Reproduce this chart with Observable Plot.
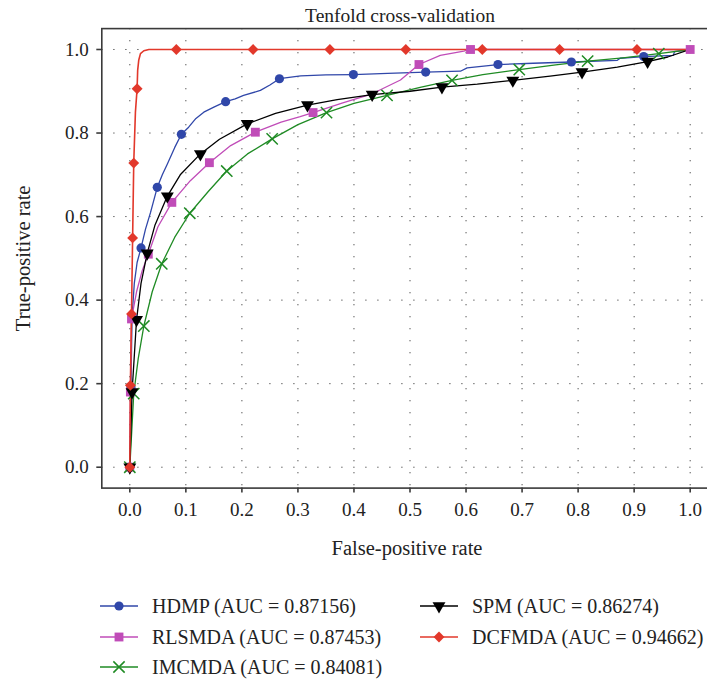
<!DOCTYPE html>
<html><head><meta charset="utf-8">
<script src="https://cdn.jsdelivr.net/npm/d3@7"></script>
<script src="https://cdn.jsdelivr.net/npm/@observablehq/plot@0.6"></script>
<style>
html,body{margin:0;padding:0;background:#fff;overflow:hidden}
#wrap{position:relative;width:707px;height:682px;font-family:"Liberation Serif",serif;color:#222;overflow:hidden}
#chart svg{max-width:none;display:block}
.leg{position:absolute;display:flex;align-items:center;font-size:20px;white-space:nowrap;line-height:24px}
.leg svg{display:block;overflow:visible}
.leg span{margin-left:14px}
</style></head><body><div id="wrap"><div id="chart"></div></div>
<script>
const title = "Tenfold cross-validation";
const xLabel = "False-positive rate";
const yLabel = "True-positive rate";
const xTicks = [0, 0.1, 0.2, 0.3, 0.4, 0.5, 0.6, 0.7, 0.8, 0.9, 1.0];
const yTicks = [0, 0.2, 0.4, 0.6, 0.8, 1.0];
const names = ["HDMP", "RLSMDA", "IMCMDA", "SPM", "DCFMDA"];
const aucs = ["0.87156", "0.87453", "0.84081", "0.86274", "0.94662"];
const colors = ["#3047a9", "#c04cb8", "#1f8b24", "#000000", "#e2382b"];
const symbols = ["circle", "square", "times", "triangle", "diamond2"];

// HDMP
const hdmpX = [0, 0.001, 0.002, 0.004, 0.008, 0.013, 0.02, 0.028, 0.037, 0.049, 0.058, 0.067, 0.08, 0.092, 0.105, 0.118, 0.132, 0.15, 0.171, 0.188, 0.203, 0.233, 0.25, 0.267, 0.305, 0.35, 0.399, 0.46, 0.528, 0.59, 0.602, 0.657, 0.72, 0.788, 0.87, 0.875, 0.917, 0.97, 0.972, 1.0];
const hdmpY = [0, 0.09, 0.19, 0.36, 0.44, 0.49, 0.525, 0.57, 0.61, 0.67, 0.70, 0.726, 0.765, 0.797, 0.814, 0.835, 0.85, 0.862, 0.875, 0.882, 0.89, 0.902, 0.915, 0.93, 0.937, 0.939, 0.940, 0.943, 0.946, 0.948, 0.956, 0.964, 0.967, 0.970, 0.974, 0.979, 0.983, 0.986, 0.995, 1.0];
const hdmpMX = [0, 0.002, 0.005, 0.020, 0.049, 0.092, 0.171, 0.267, 0.399, 0.528, 0.657, 0.788, 0.917];
const hdmpMY = [0, 0.19, 0.36, 0.525, 0.670, 0.797, 0.875, 0.930, 0.940, 0.946, 0.964, 0.970, 0.983];

// RLSMDA
const rlsX = [0, 0.001, 0.003, 0.012, 0.022, 0.033, 0.05, 0.075, 0.108, 0.142, 0.18, 0.224, 0.27, 0.304, 0.327, 0.38, 0.4325, 0.483, 0.516, 0.554, 0.596, 0.608, 1.0];
const rlsY = [0, 0.18, 0.355, 0.42, 0.47, 0.51, 0.575, 0.634, 0.686, 0.729, 0.77, 0.802, 0.826, 0.839, 0.849, 0.872, 0.894, 0.927, 0.964, 0.986, 0.996, 1.0, 1.0];
const rlsMX = [0, 0.001, 0.003, 0.033, 0.075, 0.142, 0.224, 0.327, 0.516, 0.608, 1.0];
const rlsMY = [0, 0.18, 0.355, 0.51, 0.634, 0.729, 0.802, 0.849, 0.964, 1.0, 1.0];

// IMCMDA
const imcX = [0, 0.007, 0.015, 0.025, 0.04, 0.057, 0.08, 0.107, 0.14, 0.173, 0.21, 0.254, 0.3, 0.351, 0.4, 0.459, 0.52, 0.575, 0.63, 0.695, 0.76, 0.817, 0.88, 0.944, 1.0];
const imcY = [0, 0.176, 0.26, 0.338, 0.42, 0.487, 0.55, 0.608, 0.66, 0.709, 0.75, 0.786, 0.82, 0.849, 0.871, 0.890, 0.91, 0.926, 0.94, 0.952, 0.963, 0.972, 0.98, 0.990, 1.0];
const imcMX = [0, 0.007, 0.025, 0.057, 0.107, 0.173, 0.254, 0.351, 0.459, 0.575, 0.695, 0.817, 0.944];
const imcMY = [0, 0.176, 0.338, 0.487, 0.608, 0.709, 0.786, 0.849, 0.890, 0.926, 0.952, 0.972, 0.990];

// SPM
const spmX = [0, 0.004, 0.012, 0.02, 0.031, 0.045, 0.067, 0.09, 0.126, 0.16, 0.2095, 0.26, 0.317, 0.37, 0.4325, 0.5, 0.557, 0.62, 0.6835, 0.75, 0.807, 0.87, 0.924, 0.96, 1.0];
const spmY = [0, 0.18, 0.353, 0.44, 0.512, 0.58, 0.649, 0.70, 0.750, 0.785, 0.822, 0.847, 0.867, 0.880, 0.892, 0.900, 0.910, 0.917, 0.926, 0.936, 0.946, 0.958, 0.971, 0.982, 1.0];
const spmMX = [0, 0.004, 0.012, 0.031, 0.067, 0.126, 0.2095, 0.317, 0.4325, 0.557, 0.6835, 0.807, 0.924];
const spmMY = [0, 0.18, 0.353, 0.512, 0.649, 0.750, 0.822, 0.867, 0.892, 0.910, 0.926, 0.946, 0.971];

// DCFMDA
const dcfX = [0, 0.001, 0.003, 0.005, 0.007, 0.010, 0.013, 0.014, 0.016, 0.019, 0.025, 0.034, 1.0];
const dcfY = [0, 0.196, 0.367, 0.549, 0.728, 0.85, 0.906, 0.95, 0.975, 0.99, 0.997, 1.0, 1.0];
const dcfMX = [0, 0.001, 0.003, 0.005, 0.007, 0.013, 0.083, 0.22, 0.357, 0.4925, 0.629, 0.767, 0.905];
const dcfMY = [0, 0.196, 0.367, 0.549, 0.728, 0.906, 1, 1, 1, 1, 1, 1, 1];

const curveX = [hdmpX, rlsX, imcX, spmX, dcfX];
const curveY = [hdmpY, rlsY, imcY, spmY, dcfY];
const markX = [hdmpMX, rlsMX, imcMX, spmMX, dcfMX];
const markY = [hdmpMY, rlsMY, imcMY, spmMY, dcfMY];

const lineRows = names.map((n, i) => curveX[i].map((x, j) => ({name: n, x, y: curveY[i][j]})));
const markRows = names.map((n, i) => markX[i].map((x, j) => ({name: n, x, y: markY[i][j]})));

const symR = [4.6, 5.0, 5.2, 4.8, 4.9];
function dotOpts(i) {
  const o = {x: "x", y: "y", symbol: symbols[i], r: symR[i]};
  if (symbols[i] === "times") { o.fill = "none"; o.stroke = colors[i]; o.strokeWidth = 1.5; }
  else { o.fill = colors[i]; o.stroke = "none"; }
  if (symbols[i] === "triangle") o.rotate = 180;
  return o;
}

const W = 707, H = 580;
const fTop = 28.1, fBottom = 487.6, fLeft = 101.3, fRight = 717.7;
const frameColor = "#3a3a3a";

const chart = Plot.plot({
  width: W, height: H,
  marginLeft: fLeft, marginRight: W - fRight, marginTop: fTop, marginBottom: H - fBottom,
  x: {domain: [-0.05, 1.05]},
  y: {domain: [-0.05, 1.05]},
  style: {fontFamily: "'Liberation Serif', serif", fontSize: "19px", color: "#222", background: "white", overflow: "hidden"},
  marks: [
    Plot.gridX(xTicks, {stroke: "#444", strokeOpacity: 1, strokeWidth: 1, strokeDasharray: "1.2,10.8"}),
    Plot.gridY(yTicks, {stroke: "#444", strokeOpacity: 1, strokeWidth: 1, strokeDasharray: "1.2,10.8"}),
    Plot.frame({stroke: frameColor, strokeWidth: 1.6}),
    Plot.axisX(xTicks, {tickSize: 5, tickPadding: 9, tickFormat: d => d.toFixed(1), label: null, stroke: frameColor, strokeWidth: 1.6, fontSize: 19}),
    Plot.axisY(yTicks, {tickSize: 5, tickPadding: 8, tickFormat: d => d.toFixed(1), label: null, stroke: frameColor, strokeWidth: 1.6, fontSize: 19}),
    ...names.map((n, i) => Plot.line(lineRows[i], {x: "x", y: "y", stroke: colors[i], strokeWidth: i === 4 ? 1.6 : 1.3})),
    ...names.map((n, i) => Plot.dot(markRows[i], dotOpts(i))),
    Plot.text([title], {frameAnchor: "top", lineAnchor: "middle", dy: -13, dx: -10, fontSize: 19.5, fill: "#222"}),
    Plot.text([xLabel], {frameAnchor: "bottom", lineAnchor: "middle", textAnchor: "middle", dy: 60, dx: -3, fontSize: 20.5, fill: "#222"}),
    Plot.text([yLabel], {frameAnchor: "left", lineAnchor: "middle", textAnchor: "middle", dx: -78, rotate: -90, fontSize: 20.5, fill: "#222"})
  ]
});
document.getElementById("chart").appendChild(chart);

// legend
const wrap = document.getElementById("wrap");
const rowsY = [606, 637, 667];
names.forEach((n, i) => {
  const col = i < 3 ? 0 : 1, row = i < 3 ? i : i - 3;
  const div = document.createElement("div");
  div.className = "leg";
  div.style.left = (col ? 420 : 100) + "px";
  div.style.top = (rowsY[row] - 12) + "px";
  const svg = d3.create("svg").attr("width", 38).attr("height", 24);
  svg.append("line").attr("x1", 0).attr("x2", 38).attr("y1", 12).attr("y2", 12).attr("stroke", colors[i]).attr("stroke-width", 1.3);
  const symMap = {circle: d3.symbolCircle, square: d3.symbolSquare, times: d3.symbolTimes, triangle: d3.symbolTriangle, diamond2: d3.symbolDiamond2};
  const p = svg.append("path").attr("d", d3.symbol(symMap[symbols[i]], Math.PI * symR[i] * symR[i])())
    .attr("transform", `translate(19,12)${symbols[i] === "triangle" ? " rotate(180)" : ""}`);
  if (symbols[i] === "times") p.attr("fill", "none").attr("stroke", colors[i]).attr("stroke-width", 1.5);
  else p.attr("fill", colors[i]);
  div.appendChild(svg.node());
  const span = document.createElement("span");
  span.textContent = `${n} (AUC = ${aucs[i]})`;
  div.appendChild(span);
  wrap.appendChild(div);
});
</script></body></html>
